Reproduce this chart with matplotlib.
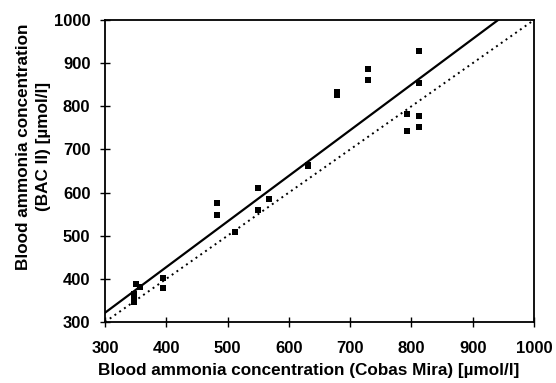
import matplotlib
matplotlib.use("Agg")
import matplotlib.pyplot as plt
import numpy as np

plt.rcParams['font.family'] = ['Liberation Sans', 'DejaVu Sans']

# Data
cobas = [812, 729, 729, 679, 679, 812, 792, 813, 792, 813, 632, 632,
         550, 550, 568, 482, 482, 512, 394, 394, 351, 357, 348, 347, 347]
bac = [928, 887, 860, 832, 826, 855, 781, 778, 743, 752, 665, 661,
       611, 560, 584, 576, 547, 508, 403, 378, 389, 381, 364, 356, 347]
reg_slope = 1.058
reg_intercept = 4.0
ticks = [300, 400, 500, 600, 700, 800, 900, 1000]

fig = plt.figure(figsize=(5.56, 3.83), dpi=100)
ax = fig.add_axes([105/556, 1-322/383, (534-105)/556, (322-20)/383])

ax.scatter(cobas, bac, marker='s', s=22, color='black', zorder=3, linewidths=0)
xl = np.array([300, 1000])
ax.plot(xl, reg_slope*xl + reg_intercept, color='black', lw=1.6, zorder=2)
ax.plot(xl, xl, color='black', lw=1.4, ls=(0, (1, 2)), zorder=2)

ax.set_xlim(300, 1000)
ax.set_ylim(300, 1000)
ax.set_xticks(ticks)
ax.set_yticks(ticks)
ax.tick_params(direction='inout', length=7, width=1, labelsize=12)
ax.tick_params(axis='x', pad=10.5)
ax.tick_params(axis='y', pad=7)
for lbl in ax.get_xticklabels() + ax.get_yticklabels():
    lbl.set_fontweight('bold')
for s in ax.spines.values():
    s.set_linewidth(1.3)

ax.set_xlabel('Blood ammonia concentration (Cobas Mira) [µmol/l]',
              fontsize=12.3, fontweight='bold')
ax.set_ylabel('Blood ammonia concentration\n(BAC II) [µmol/l]',
              fontsize=12.3, fontweight='bold', linespacing=1.38)
ax.xaxis.set_label_coords(0.4755, -0.137, transform=ax.transAxes)
ax.yaxis.set_label_coords(-0.126, 0.58, transform=ax.transAxes)
ax.xaxis.label.set_va('top')

fig.savefig('out.png', dpi=100)
